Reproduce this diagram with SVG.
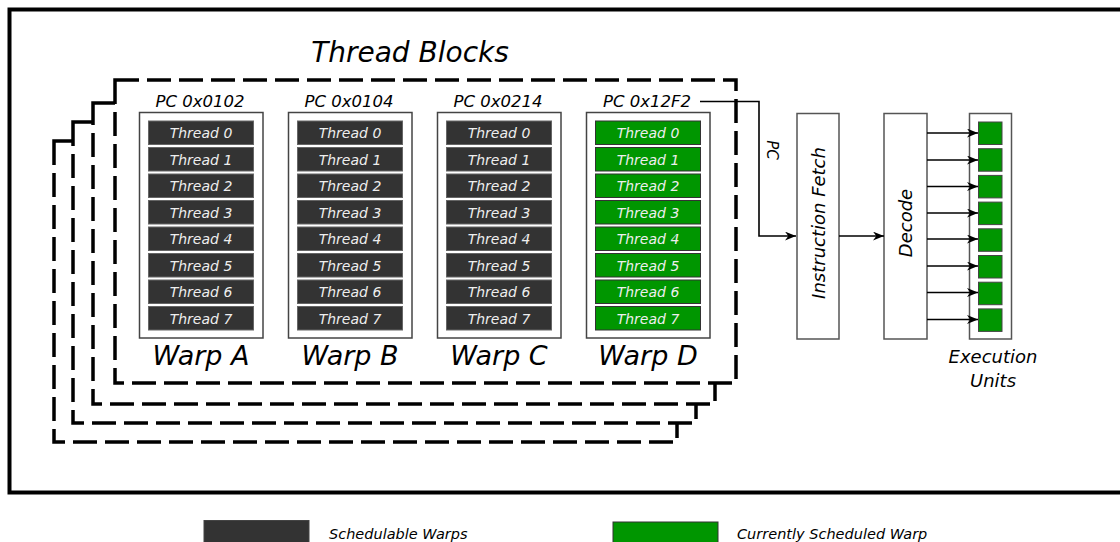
<svg xmlns="http://www.w3.org/2000/svg" width="1120" height="542" viewBox="0 0 1120 542">
<style>
text{font-family:"DejaVu Sans","Liberation Sans",sans-serif;font-style:italic}
.blk{fill:#fff;stroke:#000;stroke-width:3.5;stroke-dasharray:24 8}
.warp{fill:#fff;stroke:#444;stroke-width:1.5}
.th{fill:#333;stroke:#666;stroke-width:1}
.tg{fill:#009600;stroke:#333;stroke-width:1}
.tt{fill:#eee;font-size:14px;text-anchor:middle}
.pc{fill:#000;font-size:16.5px;text-anchor:middle}
.wl{fill:#000;font-size:27px;text-anchor:middle}
.box{fill:#fff;stroke:#555;stroke-width:1.5}
.bl{fill:#000;font-size:18px;text-anchor:middle}
.eu{fill:#009600;stroke:#444;stroke-width:1}
.con{fill:none;stroke:#000;stroke-width:1.6}
.lg{fill:#000;font-size:14.5px}
</style>
<defs>
<marker id="ah" viewBox="0 0 10 8" refX="10" refY="4" markerWidth="11" markerHeight="9" markerUnits="userSpaceOnUse" orient="auto">
<path d="M0,0 L10,4 L0,8 L3,4 z" fill="#000"/>
</marker>
</defs>
<rect x="9.5" y="9.5" width="1130" height="483" fill="#fff" stroke="#000" stroke-width="4"/>
<text x="410" y="62" font-size="28" text-anchor="middle" fill="#000">Thread Blocks</text>
<g id="blocks">
<rect class="blk" x="54" y="141" width="623" height="301"/>
<rect class="blk" x="73" y="122" width="623" height="301"/>
<rect class="blk" x="93" y="103" width="622" height="301"/>
<rect class="blk" x="115" y="80" width="621" height="303"/>
</g>
<g id="warpA">
<text class="pc" x="200" y="107">PC 0x0102</text>
<rect class="warp" x="139.5" y="112.5" width="123.5" height="225.5"/>
<rect class="th" x="148.5" y="121" width="105" height="23.5"/><text class="tt" x="201" y="138">Thread 0</text>
<rect class="th" x="148.5" y="147.5" width="105" height="23.5"/><text class="tt" x="201" y="164.5">Thread 1</text>
<rect class="th" x="148.5" y="174" width="105" height="23.5"/><text class="tt" x="201" y="191">Thread 2</text>
<rect class="th" x="148.5" y="200.5" width="105" height="23.5"/><text class="tt" x="201" y="217.5">Thread 3</text>
<rect class="th" x="148.5" y="227" width="105" height="23.5"/><text class="tt" x="201" y="244">Thread 4</text>
<rect class="th" x="148.5" y="253.5" width="105" height="23.5"/><text class="tt" x="201" y="270.5">Thread 5</text>
<rect class="th" x="148.5" y="280" width="105" height="23.5"/><text class="tt" x="201" y="297">Thread 6</text>
<rect class="th" x="148.5" y="306.5" width="105" height="23.5"/><text class="tt" x="201" y="323.5">Thread 7</text>
<text class="wl" x="201" y="365">Warp A</text>
</g>
<g id="warpB">
<text class="pc" x="349" y="107">PC 0x0104</text>
<rect class="warp" x="288.5" y="112.5" width="123.5" height="225.5"/>
<rect class="th" x="297.5" y="121" width="105" height="23.5"/><text class="tt" x="350" y="138">Thread 0</text>
<rect class="th" x="297.5" y="147.5" width="105" height="23.5"/><text class="tt" x="350" y="164.5">Thread 1</text>
<rect class="th" x="297.5" y="174" width="105" height="23.5"/><text class="tt" x="350" y="191">Thread 2</text>
<rect class="th" x="297.5" y="200.5" width="105" height="23.5"/><text class="tt" x="350" y="217.5">Thread 3</text>
<rect class="th" x="297.5" y="227" width="105" height="23.5"/><text class="tt" x="350" y="244">Thread 4</text>
<rect class="th" x="297.5" y="253.5" width="105" height="23.5"/><text class="tt" x="350" y="270.5">Thread 5</text>
<rect class="th" x="297.5" y="280" width="105" height="23.5"/><text class="tt" x="350" y="297">Thread 6</text>
<rect class="th" x="297.5" y="306.5" width="105" height="23.5"/><text class="tt" x="350" y="323.5">Thread 7</text>
<text class="wl" x="350" y="365">Warp B</text>
</g>
<g id="warpC">
<text class="pc" x="498" y="107">PC 0x0214</text>
<rect class="warp" x="437.5" y="112.5" width="123.5" height="225.5"/>
<rect class="th" x="446.5" y="121" width="105" height="23.5"/><text class="tt" x="499" y="138">Thread 0</text>
<rect class="th" x="446.5" y="147.5" width="105" height="23.5"/><text class="tt" x="499" y="164.5">Thread 1</text>
<rect class="th" x="446.5" y="174" width="105" height="23.5"/><text class="tt" x="499" y="191">Thread 2</text>
<rect class="th" x="446.5" y="200.5" width="105" height="23.5"/><text class="tt" x="499" y="217.5">Thread 3</text>
<rect class="th" x="446.5" y="227" width="105" height="23.5"/><text class="tt" x="499" y="244">Thread 4</text>
<rect class="th" x="446.5" y="253.5" width="105" height="23.5"/><text class="tt" x="499" y="270.5">Thread 5</text>
<rect class="th" x="446.5" y="280" width="105" height="23.5"/><text class="tt" x="499" y="297">Thread 6</text>
<rect class="th" x="446.5" y="306.5" width="105" height="23.5"/><text class="tt" x="499" y="323.5">Thread 7</text>
<text class="wl" x="499" y="365">Warp C</text>
</g>
<g id="warpD">
<text class="pc" x="647" y="107">PC 0x12F2</text>
<rect class="warp" x="586.5" y="112.5" width="123.5" height="225.5"/>
<rect class="tg" x="595.5" y="121" width="105" height="23.5"/><text class="tt" x="648" y="138">Thread 0</text>
<rect class="tg" x="595.5" y="147.5" width="105" height="23.5"/><text class="tt" x="648" y="164.5">Thread 1</text>
<rect class="tg" x="595.5" y="174" width="105" height="23.5"/><text class="tt" x="648" y="191">Thread 2</text>
<rect class="tg" x="595.5" y="200.5" width="105" height="23.5"/><text class="tt" x="648" y="217.5">Thread 3</text>
<rect class="tg" x="595.5" y="227" width="105" height="23.5"/><text class="tt" x="648" y="244">Thread 4</text>
<rect class="tg" x="595.5" y="253.5" width="105" height="23.5"/><text class="tt" x="648" y="270.5">Thread 5</text>
<rect class="tg" x="595.5" y="280" width="105" height="23.5"/><text class="tt" x="648" y="297">Thread 6</text>
<rect class="tg" x="595.5" y="306.5" width="105" height="23.5"/><text class="tt" x="648" y="323.5">Thread 7</text>
<text class="wl" x="648" y="365">Warp D</text>
</g>
<g id="fetch">
<rect class="box" x="797" y="113.5" width="42" height="225.5"/>
<text class="bl" transform="translate(824.5,223) rotate(-90)">Instruction Fetch</text>
</g>
<g id="decode">
<rect class="box" x="884" y="113.5" width="43" height="225.5"/>
<text class="bl" transform="translate(912,223) rotate(-90)">Decode</text>
</g>
<g id="exec">
<rect class="box" x="969.5" y="113.5" width="42" height="225.5"/>
<rect class="eu" x="978.5" y="122" width="23.5" height="22.5"/>
<rect class="eu" x="978.5" y="148.7" width="23.5" height="22.5"/>
<rect class="eu" x="978.5" y="175.4" width="23.5" height="22.5"/>
<rect class="eu" x="978.5" y="202.1" width="23.5" height="22.5"/>
<rect class="eu" x="978.5" y="228.8" width="23.5" height="22.5"/>
<rect class="eu" x="978.5" y="255.5" width="23.5" height="22.5"/>
<rect class="eu" x="978.5" y="282.2" width="23.5" height="22.5"/>
<rect class="eu" x="978.5" y="308.9" width="23.5" height="22.5"/>
<text class="bl" x="993" y="363">Execution</text>
<text class="bl" x="993" y="387">Units</text>
</g>
<g id="connectors">
<path class="con" d="M700,101.5 H759 V236 H796" marker-end="url(#ah)"/>
<text transform="translate(767,150) rotate(90)" font-size="15" text-anchor="middle" fill="#000">PC</text>
<path class="con" d="M839,236 H884" marker-end="url(#ah)"/>
<path class="con" d="M927,133 H978" marker-end="url(#ah)"/>
<path class="con" d="M927,160 H978" marker-end="url(#ah)"/>
<path class="con" d="M927,186.5 H978" marker-end="url(#ah)"/>
<path class="con" d="M927,213 H978" marker-end="url(#ah)"/>
<path class="con" d="M927,239 H978" marker-end="url(#ah)"/>
<path class="con" d="M927,266 H978" marker-end="url(#ah)"/>
<path class="con" d="M927,292.5 H978" marker-end="url(#ah)"/>
<path class="con" d="M927,319.5 H978" marker-end="url(#ah)"/>
</g>
<g id="legend">
<rect x="204" y="520.5" width="105" height="30" fill="#333" stroke="#444" stroke-width="1"/>
<text class="lg" x="329" y="539">Schedulable Warps</text>
<rect x="613" y="522" width="105" height="30" fill="#009600" stroke="#333" stroke-width="1"/>
<text class="lg" x="737" y="539">Currently Scheduled Warp</text>
</g>
</svg>
